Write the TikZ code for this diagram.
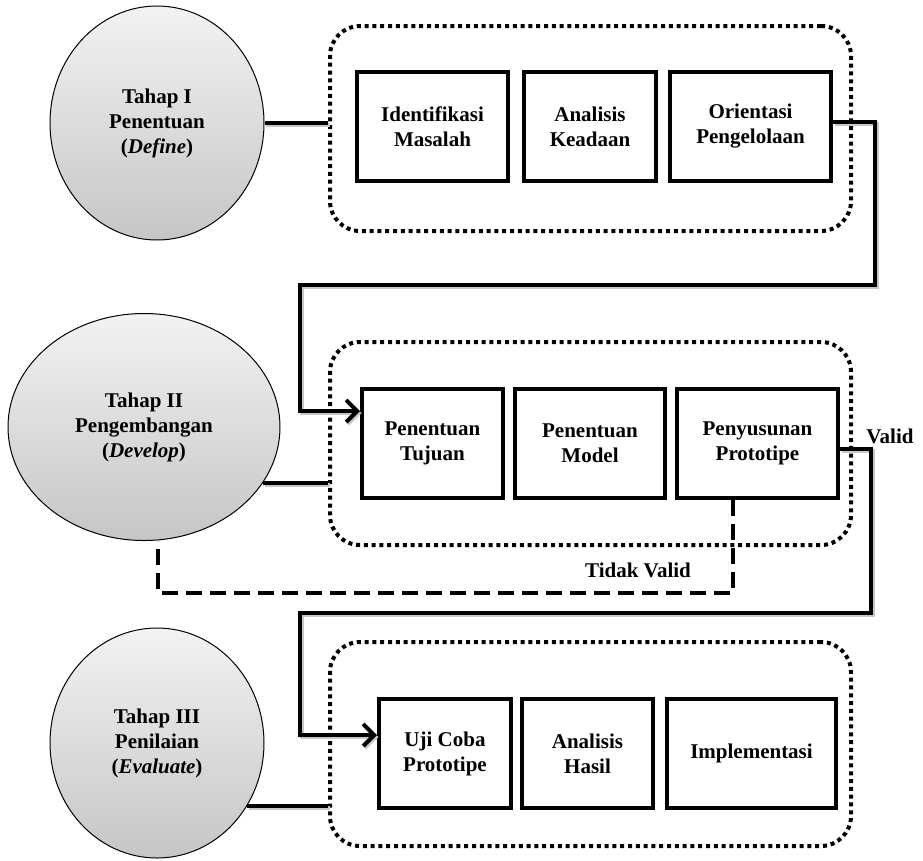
\documentclass[tikz,border=0pt]{standalone}
\usepackage{fontspec}
\setmainfont{Liberation Serif}
\usetikzlibrary{shapes.geometric,arrows.meta}
\begin{document}
\begin{tikzpicture}[x=1pt,y=-1pt,
  every node/.style={font=\fontsize{21}{25}\selectfont\bfseries, align=center},
  stagebox/.style={ellipse, draw=black, line width=1pt, top color=gray!10, bottom color=gray!45, inner sep=0pt},
  groupbox/.style={rectangle, rounded corners=30pt, draw=black, line width=4pt, dash pattern=on 4pt off 3.8pt, inner sep=0pt},
  stepbox/.style={rectangle, draw=black, line width=4pt, fill=white, inner sep=0pt, minimum height=109pt},
  link/.style={line width=4pt, draw=black},
  shadowed/.style={preaction={draw=black!22, line width=4pt, transform canvas={shift={(1.5pt,-2pt)}}}},
  tip/.style={-{Straight Barb[length=11pt,width=22pt]}},
]
\useasboundingbox (0,0) rectangle (923,860);
\fill[white] (0,0) rectangle (923,860);

% group boxes
\node[groupbox, minimum width=521pt, minimum height=205pt] (d1) at (590.5,128.5) {};
\node[groupbox, minimum width=521pt, minimum height=203pt] (d2) at (590.5,443.5) {};
\node[groupbox, minimum width=521pt, minimum height=204pt] (d3) at (590.5,744) {};

% stage ellipses
\node[stagebox, minimum width=214pt, minimum height=234pt] (e1) at (157,123) {Tahap I\\Penentuan\\(\textit{Define})};
\node[stagebox, minimum width=272pt, minimum height=227pt] (e2) at (144,427) {Tahap II\\Pengembangan\\(\textit{Develop})};
\node[stagebox, minimum width=214pt, minimum height=230pt] (e3) at (157,743) {Tahap III\\Penilaian\\(\textit{Evaluate})};

% step boxes
\node[stepbox, minimum width=151pt] (b1) at (432.5,126.5) {Identifikasi\\Masalah};
\node[stepbox, minimum width=132pt] (b2) at (590,126.5) {Analisis\\Keadaan};
\node[stepbox, minimum width=161pt] (b3) at (750.5,126.5) {Orientasi\\Pengelolaan};
\node[stepbox, minimum width=141pt] (b4) at (432.5,443.5) {Penentuan\\Tujuan};
\node[stepbox, minimum width=150pt] (b5) at (590,443.5) {Penentuan\\Model};
\node[stepbox, minimum width=161pt] (b6) at (757.5,443.5) {Penyusunan\\Prototipe};
\node[stepbox, minimum width=132pt] (b7) at (445,753.5) {Uji Coba\\Prototipe};
\node[stepbox, minimum width=131pt] (b8) at (587.5,753.5) {Analisis\\Hasil};
\node[stepbox, minimum width=169pt] (b9) at (751.5,753.5) {Implementasi};

% labels
\node (lv) at (890,436) {Valid};
\node (ltv) at (638,570) {Tidak Valid};

% corner coordinates
\coordinate (c1) at (875,285);
\coordinate (c2) at (300,411);
\coordinate (v1) at (871,613);
\coordinate (v2) at (300,735);
\coordinate (t1) at (158,593);

% stage to group links
\draw[link, shadowed] (e1.east) -- (e1.east -| d1.west);
\draw[link, shadowed] (e2.-25) -- (e2.-25 -| d2.west);
\draw[link, shadowed] (e3.-35) -- (e3.-35 -| d3.west);

% flow connectors
\draw[link, shadowed, tip] ([yshift=4.5pt]b3.east) -| (c1) -| (c2) -- (c2 -| b4.west);
\draw[link, shadowed, tip] ([yshift=-5.5pt]b6.east) -| (v1) -| (v2) -- (v2 -| b7.west);
\draw[link, dash pattern=on 16pt off 8pt] ([xshift=-24.5pt]b6.south) |- (t1) -- ([xshift=14pt]e2.south);
\end{tikzpicture}
\end{document}
